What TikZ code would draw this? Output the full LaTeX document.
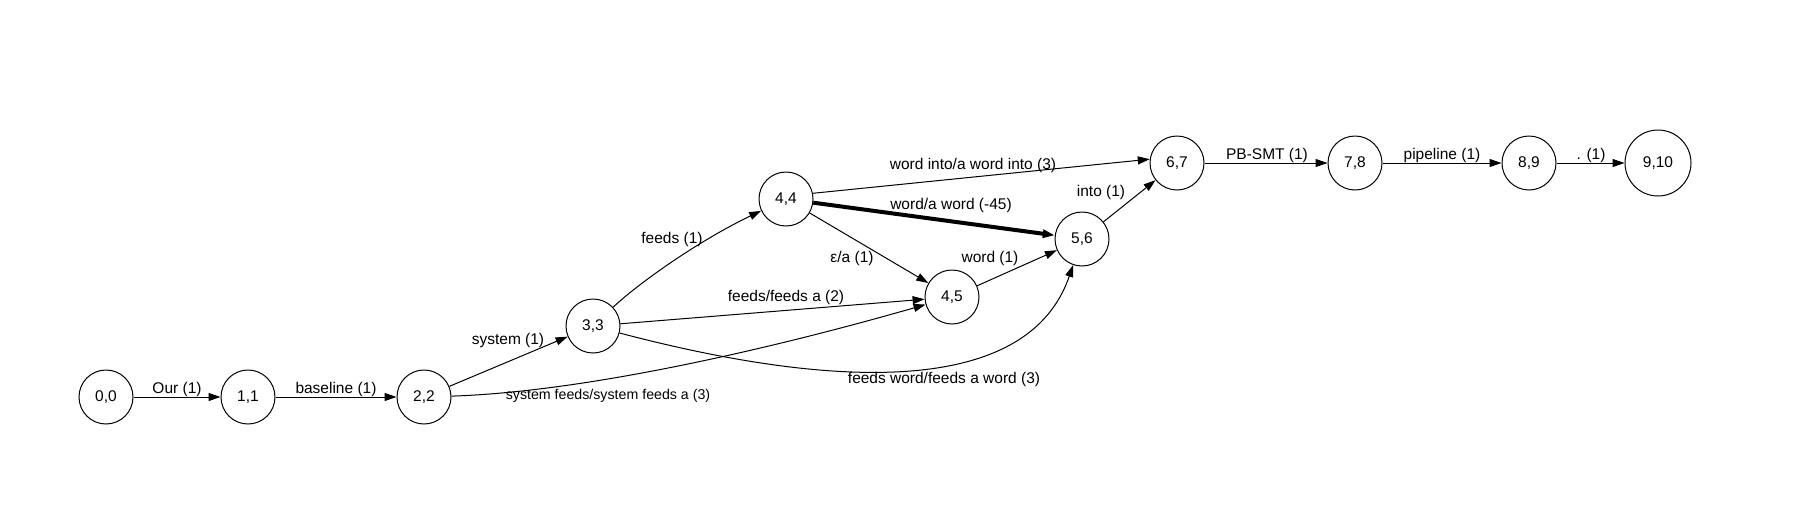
\documentclass[tikz,border=0pt]{standalone}
\usepackage{fontspec}
\setmainfont{Liberation Sans}
\usetikzlibrary{arrows.meta}
\begin{document}
\begin{tikzpicture}[x=1pt,y=-1pt,
  st/.style={draw, circle, line width=1pt, minimum size=54pt, inner sep=0pt, font=\fontsize{15.5}{18}\selectfont},
  big/.style={minimum size=66pt},
  lbl/.style={font=\fontsize{15.5}{18}\selectfont, inner sep=0pt},
  small/.style={font=\fontsize{14.2}{17}\selectfont},
  arr/.style={line width=1pt, -{Triangle[length=12pt,width=8pt]}},
  heavy/.style={line width=4pt, -{Triangle[length=12pt,width=8pt]}},
]
\useasboundingbox (0,0) rectangle (1816,504);
% states
\node[st] (n00) at (106,397) {0,0};
\node[st] (n11) at (248,397) {1,1};
\node[st] (n22) at (424,397) {2,2};
\node[st] (n33) at (593,326) {3,3};
\node[st] (n44) at (786,199) {4,4};
\node[st] (n45) at (952,297) {4,5};
\node[st] (n56) at (1082,239) {5,6};
\node[st] (n67) at (1177,163) {6,7};
\node[st] (n78) at (1355,163) {7,8};
\node[st] (n89) at (1529,163) {8,9};
\node[st,big] (n910) at (1658,163) {9,10};
% edges
\draw[arr] (n00) -- (n11);
\draw[arr] (n11) -- (n22);
\draw[arr] (n22) -- (n33);
\draw[arr] (n22) .. controls (580,392) and (760,352) .. (n45);
\draw[arr] (n33) .. controls (640,282) and (700,240) .. (n44);
\draw[arr] (n33) -- (n45);
\draw[arr] (n33) .. controls (760,370) and (1020,420) .. (n56);
\draw[arr] (n44.12) -- (n67.172);
\draw[heavy] (n44) -- (n56);
\draw[arr] (n44) -- (n45);
\draw[arr] (n45) -- (n56);
\draw[arr] (n56) -- (n67);
\draw[arr] (n67) -- (n78);
\draw[arr] (n78) -- (n89);
\draw[arr] (n89) -- (n910);
% labels
\node[lbl] (l1) at (177,389) {Our (1)};
\node[lbl] (l2) at (336,389) {baseline (1)};
\node[lbl] (l3) at (508,340) {system (1)};
\node[lbl,small] (l4) at (608,396) {system feeds/system feeds a (3)};
\node[lbl] (l5) at (672,239) {feeds (1)};
\node[lbl] (l6) at (786,297) {feeds/feeds a (2)};
\node[lbl] (l7) at (944,379) {feeds word/feeds a word (3)};
\node[lbl] (l8) at (973,165) {word into/a word into (3)};
\node[lbl] (l9) at (951,205) {word/a word (-45)};
\node[lbl] (l10) at (852,258) {ε/a (1)};
\node[lbl] (l11) at (990,258) {word (1)};
\node[lbl] (l12) at (1101,192) {into (1)};
\node[lbl] (l13) at (1267,155) {PB-SMT (1)};
\node[lbl] (l14) at (1442,155) {pipeline (1)};
\node[lbl] (l15) at (1591,155) {. (1)};
\end{tikzpicture}
\end{document}
